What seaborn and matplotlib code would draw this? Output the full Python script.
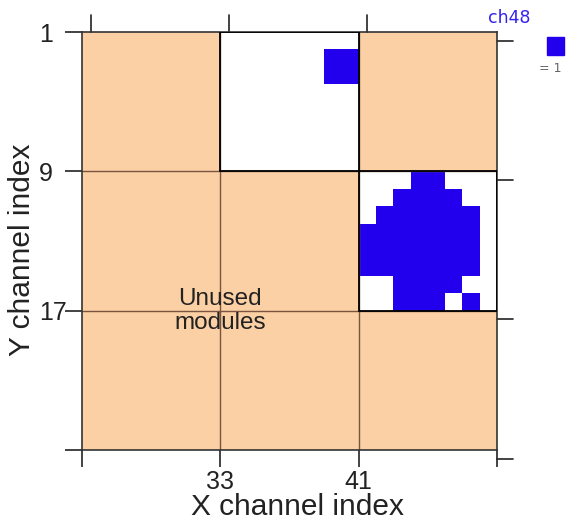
import numpy as np
import pandas as pd
import matplotlib
matplotlib.use("Agg")
import matplotlib.pyplot as plt
from matplotlib.colors import ListedColormap
from matplotlib.patches import Rectangle
import seaborn as sns

# channel ranges and module layout (8 channels per module)
x_channels = list(range(25, 49))
y_channels = list(range(1, 25))
module_size = 8
x_module_starts = [25, 33, 41]
y_module_starts = [1, 9, 17]

# modules that are read out (x start, y start); everything else is unused
used_modules = [(33, 1), (41, 9)]

# channels that fired (value = 1)
hit_x = [39, 40, 39, 40,
         44, 45,
         43, 44, 45, 46,
         42, 43, 44, 45, 46, 47,
         41, 42, 43, 44, 45, 46, 47,
         41, 42, 43, 44, 45, 46, 47,
         41, 42, 43, 44, 45, 46, 47,
         43, 44, 45, 46,
         43, 44, 45, 47]
hit_y = [2, 2, 3, 3,
         9, 9,
         10, 10, 10, 10,
         11, 11, 11, 11, 11, 11,
         12, 12, 12, 12, 12, 12, 12,
         13, 13, 13, 13, 13, 13, 13,
         14, 14, 14, 14, 14, 14, 14,
         15, 15, 15, 15,
         16, 16, 16, 16]

x_tick_labels = ["", "33", "41", ""]
y_tick_labels = ["1", "9", "17", ""]

ORANGE = "#fbd0a4"
BLUE = "#2200ee"
INK = "#222222"


def main():
    # 0 = unused module, 1 = used but empty, 2 = hit
    state = np.zeros((len(y_channels), len(x_channels)))
    for mx, my in used_modules:
        r0, c0 = my - y_channels[0], mx - x_channels[0]
        state[r0:r0 + module_size, c0:c0 + module_size] = 1
    for x, y in zip(hit_x, hit_y):
        state[y - y_channels[0], x - x_channels[0]] = 2
    df = pd.DataFrame(state, index=y_channels, columns=x_channels)

    sns.set_style("white")
    plt.rcParams["font.family"] = ["Liberation Sans", "DejaVu Sans"]

    fig = plt.figure(figsize=(5.66, 5.22), dpi=100)
    ax = fig.add_axes([82 / 566, 1 - 450 / 522, 415 / 566, 418 / 522])

    cmap = ListedColormap([ORANGE, "white", BLUE])
    sns.heatmap(df, cmap=cmap, vmin=-0.5, vmax=2.5, cbar=False, ax=ax,
                xticklabels=False, yticklabels=False)

    # module boundaries
    edge_col = "#7a5440"
    for v in x_module_starts[1:]:
        ax.axvline(v - x_channels[0], color=edge_col, lw=1.0)
    for v in y_module_starts[1:]:
        ax.axhline(v - y_channels[0], color=edge_col, lw=1.0)
    for mx, my in used_modules:
        ax.add_patch(Rectangle((mx - x_channels[0], my - y_channels[0]),
                               module_size, module_size, fill=False,
                               edgecolor="black", lw=1.3, zorder=5))

    nx, ny = len(x_channels), len(y_channels)
    xt = [s - x_channels[0] for s in x_module_starts] + [nx]
    yt = [s - y_channels[0] for s in y_module_starts] + [ny]
    ax.set_xticks(xt)
    ax.set_xticklabels(x_tick_labels)
    ax.set_yticks(yt)
    ax.set_yticklabels(y_tick_labels, rotation=0)

    for sp in ax.spines.values():
        sp.set_visible(True)
        sp.set_color("#333333")
        sp.set_linewidth(1.2)
    ax.tick_params(axis="both", direction="out", length=12.2, width=1.2,
                   color=INK, labelsize=18, labelcolor=INK,
                   bottom=True, left=True, top=False, right=False)
    ax.tick_params(axis="x", pad=2)
    # y tick labels sit left-aligned at a common left edge
    ax.tick_params(axis="y", pad=18.7)
    for lab in ax.get_yticklabels():
        lab.set_horizontalalignment("left")

    # shifted top / right tick marks
    for t in [0.5, 8.5, 16.5]:
        ax.plot([t, t], [0, -1], color=INK, lw=1.2, clip_on=False)
    for t in [0.5, 8.5, 16.5, 24.5]:
        ax.plot([nx, nx + 0.95], [t, t], color=INK, lw=1.2, clip_on=False)

    ax.set_xlim(0, nx)
    ax.set_ylim(ny, 0)

    ax.text(8, 16, "Unused\nmodules", ha="center", va="center",
            fontsize=17.5, color=INK, linespacing=1.1)

    ax.set_xlabel("X channel index", fontsize=21.5, color=INK)
    ax.set_ylabel("Y channel index", fontsize=21.5, color=INK)
    ax.xaxis.set_label_coords(0.52, -0.104)
    ax.yaxis.set_label_coords(-0.11, 0.48)

    # small legend at top right
    fig.text(488 / 566, 1 - 18 / 522, "ch48", color="#3322ee", fontsize=12.5,
             ha="left", va="center", family="DejaVu Sans")
    fig.add_artist(Rectangle((547 / 566, 1 - 55 / 522), 17 / 566, 18 / 522,
                             transform=fig.transFigure, color=BLUE))
    fig.text(550 / 566, 1 - 69 / 522, "= 1", color="#666666", fontsize=9,
             ha="center", va="center", family="DejaVu Sans")

    fig.savefig("out.png", dpi=100)


if __name__ == "__main__":
    main()
